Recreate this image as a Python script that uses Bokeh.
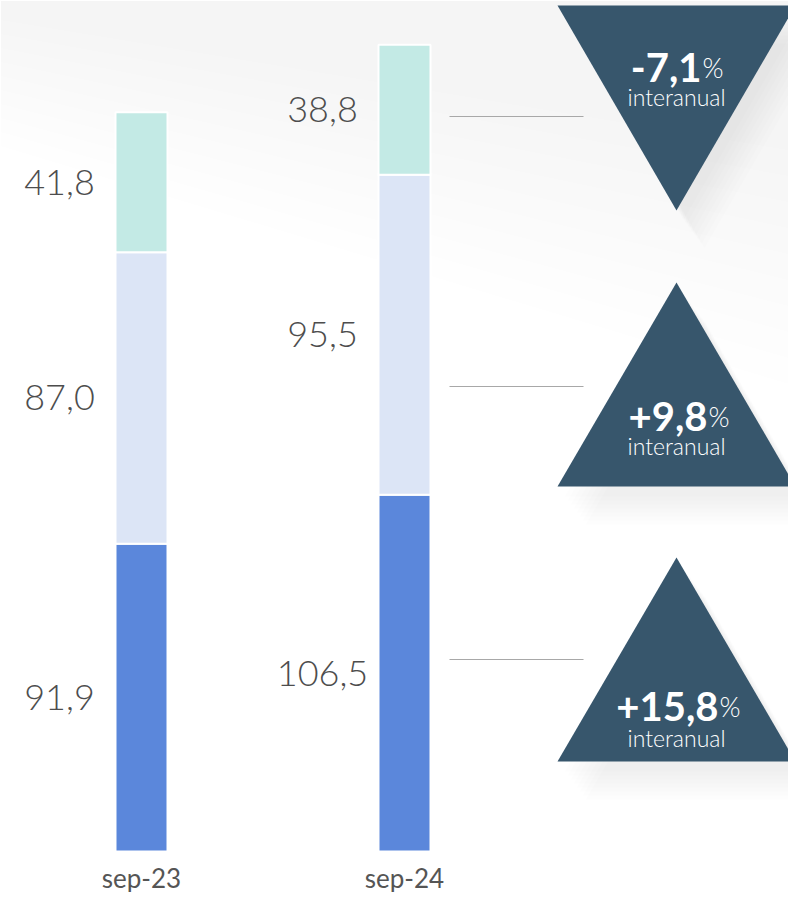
from bokeh.plotting import figure
from bokeh.models import Range1d, ColumnDataSource
from bokeh.core.properties import value
from bokeh.embed import file_html
from bokeh.resources import INLINE

# ---------------- data ----------------
periods = ["sep-23", "sep-24"]
bottom_vals = [91.9, 106.5]
middle_vals = [87.0, 95.5]
top_vals = [41.8, 38.8]
change_values = ["-7,1", "+9,8", "+15,8"]      # top, middle, bottom segment yoy change
change_dirs = ["down", "up", "up"]
change_word = "interanual"

seg_colors = ["#5B87DB", "#DCE5F6", "#C3EAE5"]
tri_color = "#37566C"
txt_color = "#4D4D4D"

# ---------------- layout (page pixels) ----------------
W, H = 788, 892
BASE_PY = 851.0          # page y of value 0
PX_PER_UNIT = 3.35

def py2y(py):
    return (BASE_PY - py) / PX_PER_UNIT

p = figure(width=W, height=H, output_backend="svg", toolbar_location=None,
           x_range=Range1d(0, W), y_range=Range1d(py2y(H), py2y(0)),
           min_border=0, outline_line_color=None)
p.axis.visible = False
p.grid.visible = False
p.background_fill_color = "white"
p.border_fill_color = "white"

# soft background shading (layered faint bands)
for k in range(10):
    hl, hr = 20 + 14 * k, 150 + 26 * k
    p.patch([0, W, W, 0], [py2y(0), py2y(0), py2y(hr), py2y(hl)],
            fill_color="#000000", fill_alpha=0.005, line_color=None)

# ---------------- stacked bars ----------------
bar_x = [141, 404]
bar_w = 52
b0 = [0.0, 0.0]
b1 = bottom_vals
t1 = [a + b for a, b in zip(bottom_vals, middle_vals)]
t2 = [a + b for a, b in zip(t1, top_vals)]

for bot, top, col in [(b0, b1, seg_colors[0]), (b1, t1, seg_colors[1]), (t1, t2, seg_colors[2])]:
    src = ColumnDataSource(dict(x=bar_x, bottom=bot, top=top))
    p.vbar(x="x", bottom="bottom", top="top", width=bar_w, source=src,
           fill_color=col, line_color="white", line_width=2)

# value labels
lab_x = [59, 322]
lab_xs, lab_ys, lab_txt = [], [], []
for i in range(2):
    for lo, hi, v in [(b0[i], b1[i], bottom_vals[i]), (b1[i], t1[i], middle_vals[i]), (t1[i], t2[i], top_vals[i])]:
        lab_xs.append(lab_x[i])
        lab_ys.append((lo + hi) / 2)
        lab_txt.append(f"{v:.1f}".replace(".", ","))
p.text(x=lab_xs, y=lab_ys, text=lab_txt, text_align="center", text_baseline="middle",
       text_font=value("Lato Light"), text_font_size="36px", text_color=txt_color)

# category labels
p.text(x=bar_x, y=[py2y(877)] * 2, text=periods, text_align="center", text_baseline="middle",
       text_font=value("Lato"), text_font_size="26px", text_color="#555555")

# ---------------- connector lines + triangles ----------------
line_py = [116, 386, 659]
p.segment(x0=[449] * 3, y0=[py2y(v) for v in line_py], x1=[583] * 3, y1=[py2y(v) for v in line_py],
          line_color="#A8A8A8", line_width=1.2)

tri_l, tri_r, tri_c = 557, 795, 676
tri_py = [(5, 210), (282, 486), (557, 761)]   # (top, bottom)

def tri_coords(top_py, bot_py, d, dx=0, dy=0):
    if d == "down":
        xs = [tri_l, tri_r, tri_c]
        ys = [top_py, top_py, bot_py]
    else:
        xs = [tri_l, tri_c, tri_r]
        ys = [bot_py, top_py, bot_py]
    return [x + dx for x in xs], [py2y(y + dy) for y in ys]

# soft shadows
for k in range(1, 9):
    sx, sy = [], []
    for (top_py, bot_py), d in zip(tri_py, change_dirs):
        xs, ys = tri_coords(top_py, bot_py, d, dx=4 + 3 * k, dy=6 + 4 * k)
        sx.append(xs)
        sy.append(ys)
    p.patches(sx, sy, fill_color="#000000", fill_alpha=0.009, line_color=None)

txs, tys = [], []
for (top_py, bot_py), d in zip(tri_py, change_dirs):
    xs, ys = tri_coords(top_py, bot_py, d)
    txs.append(xs)
    tys.append(ys)
p.patches(txs, tys, fill_color=tri_color, line_color=None)

num_right = [701, 707, 718]
num_base = [67, 416, 706]
word_base = [96, 445, 737]
p.text(x=num_right, y=[py2y(v) for v in num_base], text=change_values, text_align="right",
       text_baseline="alphabetic", text_font=value("Lato"), text_font_style="bold",
       text_font_size="40px", text_color="white")
p.text(x=[v + 1 for v in num_right], y=[py2y(v) for v in num_base], text=["%"] * 3,
       text_align="left", text_baseline="alphabetic", text_font=value("Lato Light"),
       text_font_size="27px", text_color="white")
p.text(x=[tri_c] * 3, y=[py2y(v) for v in word_base], text=[change_word] * 3,
       text_align="center", text_baseline="alphabetic", text_font=value("Lato Light"),
       text_font_size="23px", text_color="white")

open("out.html", "w").write(file_html(p, INLINE))
